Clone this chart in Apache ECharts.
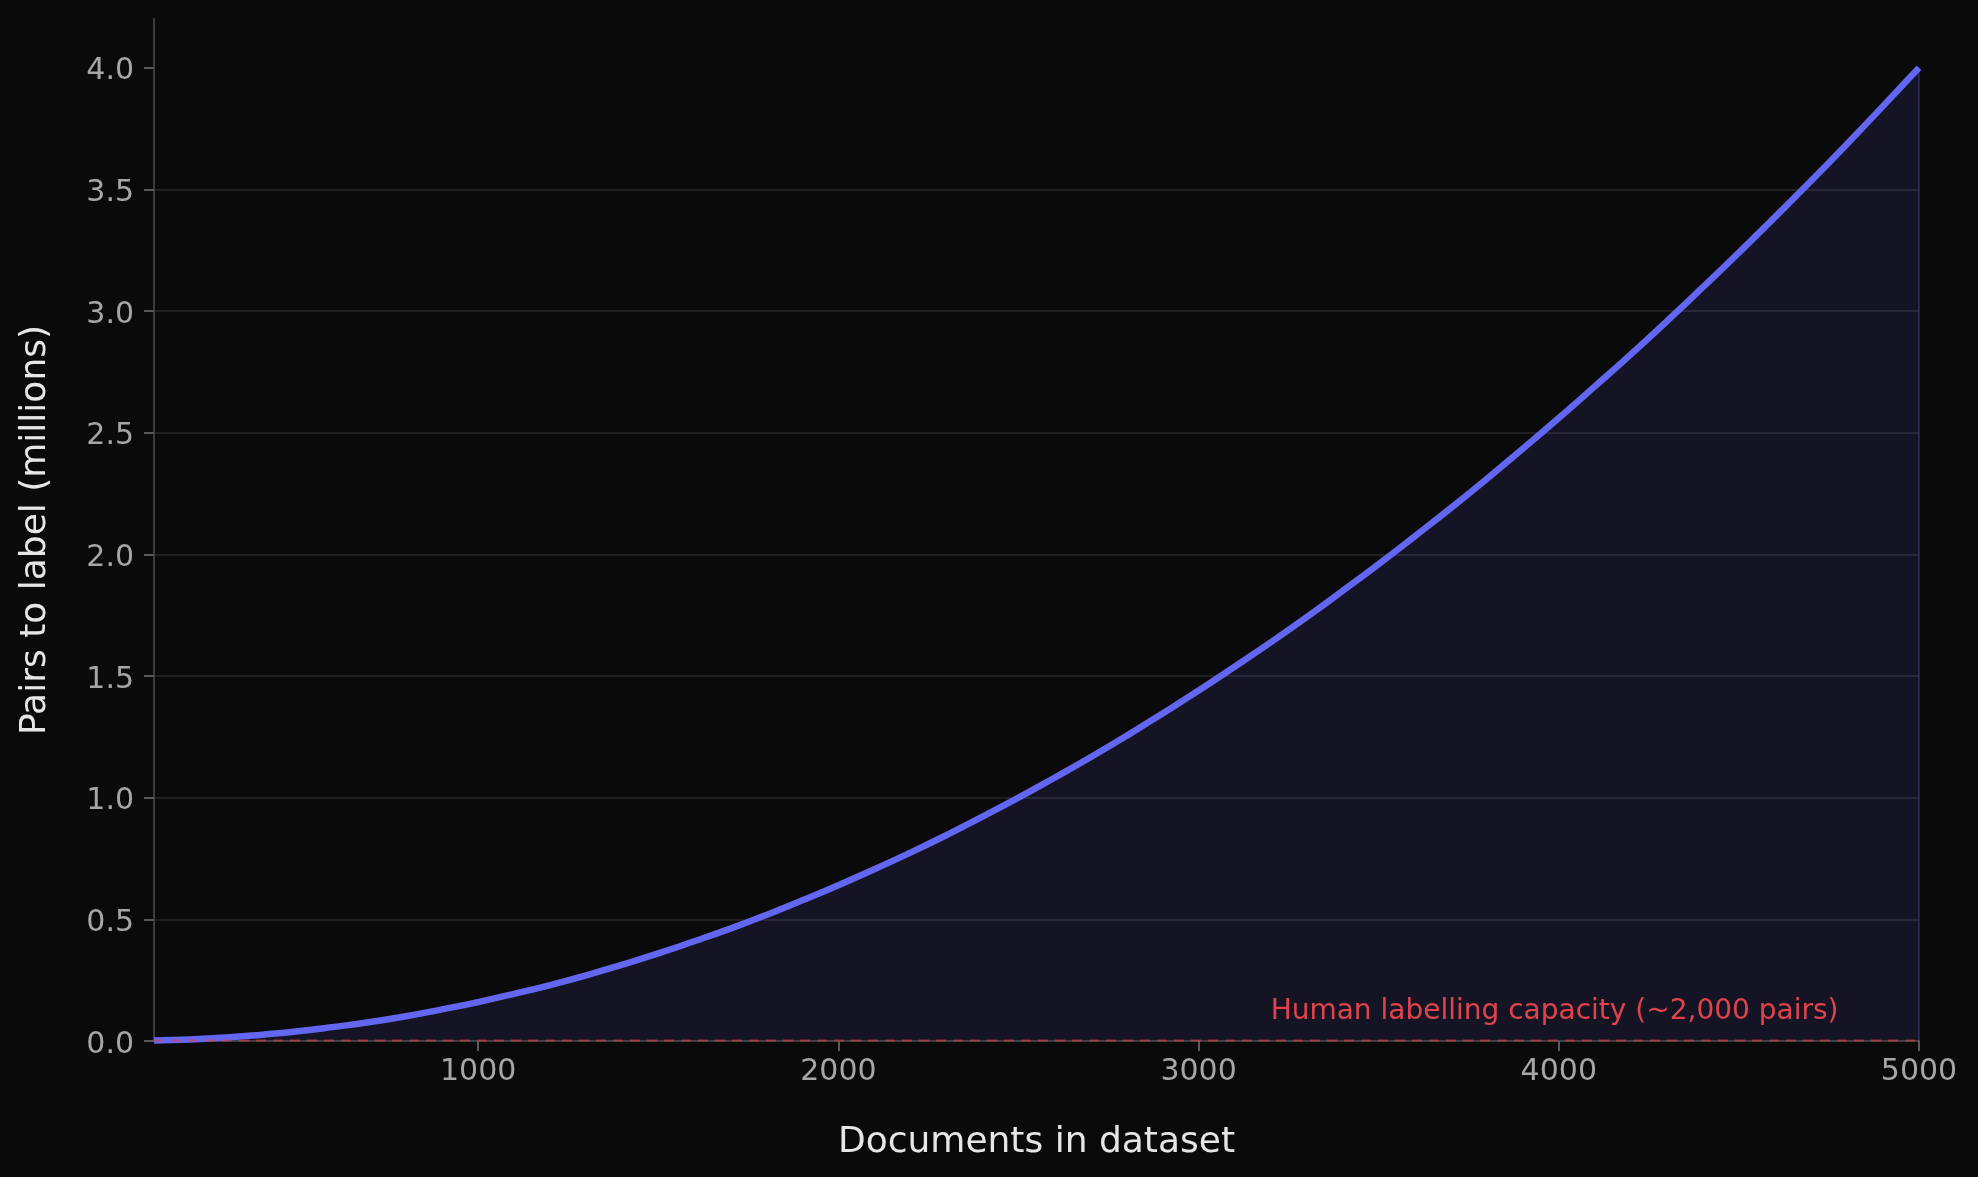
<!DOCTYPE html>
<html>
<head>
<meta charset="utf-8">
<title>Pairs to label</title>
<script src="https://cdn.jsdelivr.net/npm/echarts@6/dist/echarts.min.js"></script>
<style>
  html, body { margin: 0; padding: 0; background: #0a0a0a; }
  #pairsChart { width: 1978px; height: 1177px; }
</style>
</head>
<body>
<div id="pairsChart"></div>
<script>
// documents in dataset
var docCounts = [
  100, 200, 300, 400, 500, 600, 700, 800, 900, 1000,
  1100, 1200, 1300, 1400, 1500, 1600, 1700, 1800, 1900, 2000,
  2100, 2200, 2300, 2400, 2500, 2600, 2700, 2800, 2900, 3000,
  3100, 3200, 3300, 3400, 3500, 3600, 3700, 3800, 3900, 4000,
  4100, 4200, 4300, 4400, 4500, 4600, 4700, 4800, 4900, 5000
];
// pairs to label, millions
var pairsMillions = [
  0.002, 0.006, 0.014, 0.026, 0.040, 0.058, 0.078, 0.102, 0.130, 0.160,
  0.194, 0.230, 0.270, 0.314, 0.360, 0.410, 0.462, 0.518, 0.578, 0.640,
  0.706, 0.774, 0.846, 0.922, 1.000, 1.082, 1.166, 1.254, 1.346, 1.440,
  1.538, 1.638, 1.742, 1.850, 1.960, 2.074, 2.190, 2.310, 2.434, 2.560,
  2.690, 2.822, 2.958, 3.098, 3.240, 3.386, 3.534, 3.686, 3.842, 4.000
];
var capacityMillions = 0.002;
var capacityLabel = 'Human labelling capacity (~2,000 pairs)';
var xTicks = [1000, 2000, 3000, 4000, 5000];
var yTicks = [0, 0.5, 1.0, 1.5, 2.0, 2.5, 3.0, 3.5, 4.0];

var myChart = echarts.init(document.getElementById('pairsChart'));

var curve = docCounts.map(function (n, i) { return [n, pairsMillions[i]]; });
var lastDoc = docCounts[docCounts.length - 1];

var option = {
  backgroundColor: '#0a0a0a',
  animation: false,
  textStyle: { fontFamily: 'DejaVu Sans' },
  grid: { left: 154, right: 59, top: 19, bottom: 136 },
  xAxis: {
    type: 'value',
    min: 100,
    max: 5000,
    name: 'Documents in dataset',
    nameLocation: 'middle',
    nameGap: 84,
    nameTextStyle: { color: '#e6e6e6', fontSize: 36 },
    axisLine: { show: true, lineStyle: { color: '#3c3c3c', width: 2 } },
    axisTick: { show: true, length: 10, lineStyle: { color: '#5a5a5a', width: 2 }, customValues: xTicks },
    axisLabel: {
      color: '#a6a6a6', fontSize: 30, margin: 16, customValues: xTicks,
      formatter: function (v) { return String(v); }
    },
    splitLine: { show: false }
  },
  yAxis: {
    type: 'value',
    min: 0,
    max: 4.2,
    interval: 0.5,
    name: 'Pairs to label (millions)',
    nameLocation: 'middle',
    nameGap: 100,
    nameTextStyle: { color: '#e6e6e6', fontSize: 36 },
    axisLine: { show: true, lineStyle: { color: '#3c3c3c', width: 2 } },
    axisTick: { show: true, length: 10, lineStyle: { color: '#5a5a5a', width: 2 }, customValues: yTicks },
    axisLabel: {
      color: '#a6a6a6', fontSize: 30, margin: 20, customValues: yTicks,
      verticalAlign: 'top',
      lineHeight: 8,
      formatter: function (v) { return v.toFixed(1); }
    },
    splitLine: { show: true, showMinLine: false, showMaxLine: false, lineStyle: { color: '#202020', width: 2 } }
  },
  series: [
    {
      // n documents -> pairs
      type: 'line',
      data: curve,
      showSymbol: false,
      smooth: true,
      lineStyle: { color: '#6366f1', width: 6.5 },
      areaStyle: { color: 'rgba(99, 102, 241, 0.17)', origin: 'start' },
      z: 3,
      markLine: {
        // right edge of the filled area
        silent: true,
        symbol: 'none',
        label: { show: false },
        lineStyle: { color: 'rgba(99, 102, 241, 0.25)', width: 2, type: 'solid' },
        data: [[{ coord: [lastDoc, 0] }, { coord: [lastDoc, pairsMillions[pairsMillions.length - 1]] }]]
      }
    },
    {
      // capacity threshold
      type: 'line',
      data: [[docCounts[0], capacityMillions], [lastDoc, capacityMillions]],
      showSymbol: false,
      lineStyle: { color: 'rgba(224, 67, 75, 0.6)', width: 2, type: [10, 7] },
      z: 4,
      markPoint: {
        symbol: 'circle',
        symbolSize: 0,
        silent: true,
        data: [{
          coord: [3200, 0.12],
          label: {
            show: true,
            position: 'right',
            distance: 0,
            formatter: capacityLabel,
            color: '#e0434b',
            fontSize: 28
          }
        }]
      }
    }
  ]
};

if (option && typeof option === 'object') {
  myChart.setOption(option);
}

window.addEventListener('resize', myChart.resize);
</script>
</body>
</html>
